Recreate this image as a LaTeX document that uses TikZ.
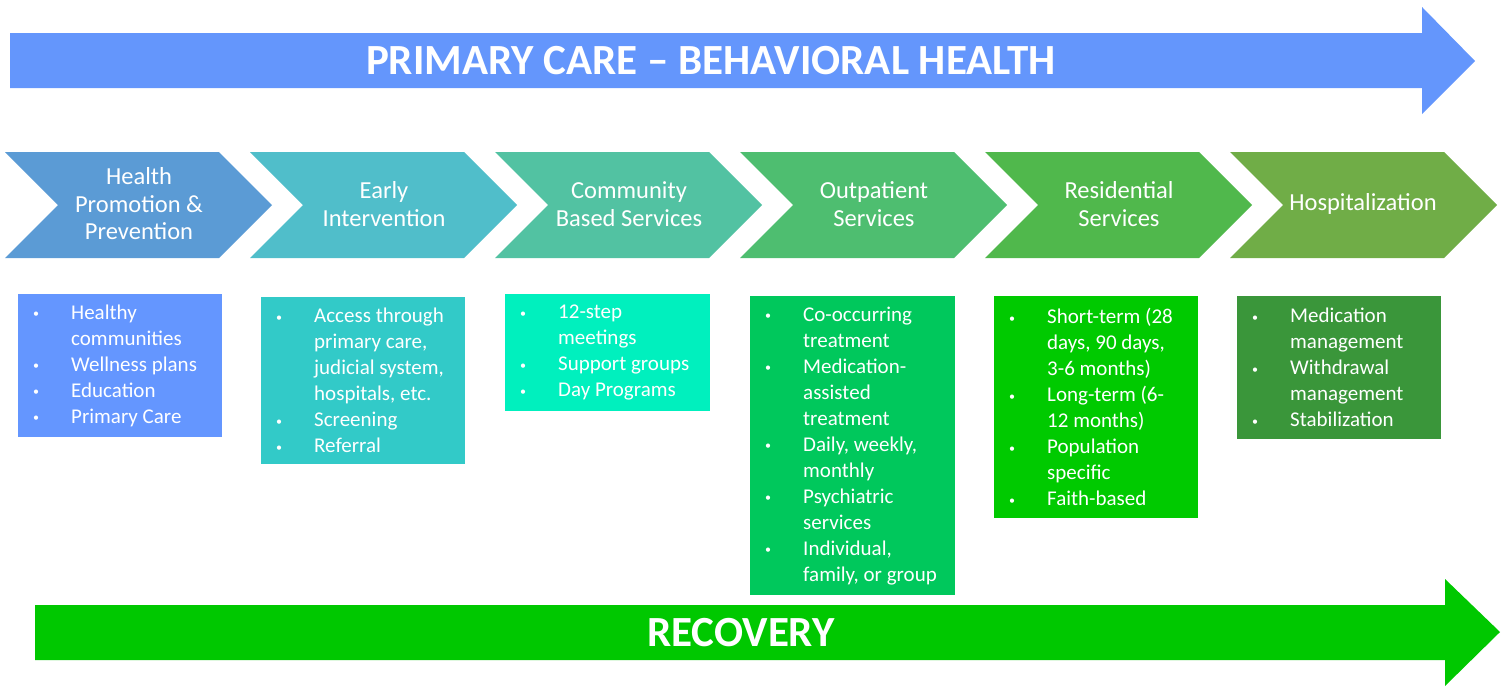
\documentclass[tikz,border=0pt]{standalone}
\usepackage{fontspec}
\setmainfont{Carlito}
\definecolor{topc}{RGB}{100,150,252}
\definecolor{botc}{RGB}{0,200,0}
\definecolor{ch1}{RGB}{91,155,213}
\definecolor{ch2}{RGB}{80,190,202}
\definecolor{ch3}{RGB}{82,194,162}
\definecolor{ch4}{RGB}{78,190,112}
\definecolor{ch5}{RGB}{80,184,76}
\definecolor{ch6}{RGB}{112,173,71}
\definecolor{bx1}{RGB}{100,150,255}
\definecolor{bx2}{RGB}{50,202,200}
\definecolor{bx3}{RGB}{0,240,190}
\definecolor{bx4}{RGB}{0,200,92}
\definecolor{bx5}{RGB}{0,202,0}
\definecolor{bx6}{RGB}{58,150,58}
\newcommand\bl[1]{\makebox[39pt][l]{\hspace*{1pt}\raisebox{1.5pt}{\fontsize{12}{12}\selectfont •}}#1}
\newcommand\cl[1]{\hspace*{39pt}#1}
\begin{document}
\begin{tikzpicture}[x=1pt,y=-1pt,
  chev/.pic={\fill[pic actions] (0,0) -- (214,0) -- (267,53) -- (214,106) -- (0,106) -- (53,53) -- cycle;},
  bigtext/.style={text=white,font=\fontsize{43}{46}\selectfont\bfseries,inner sep=0},
  chtext/.style={text=white,font=\fontsize{24.5}{27.5}\selectfont,align=center,inner sep=0},
  boxstyle/.style={anchor=north west,inner sep=0,minimum width=#1},
  listtext/.style={text=white,font=\fontsize{21}{26}\selectfont,align=left,inner sep=0,anchor=west}
]
\useasboundingbox (0,0) rectangle (1507,686);
% top arrow
\fill[topc] (10,33) -- (1422,33) -- (1422,7) -- (1475,61) -- (1422,114) -- (1422,88) -- (10,88) -- cycle;
\node[bigtext] (toptitle) at (711,61) {PRIMARY CARE \textendash{} BEHAVIORAL HEALTH};
% bottom arrow
\fill[botc] (35,605) -- (1445,605) -- (1445,579) -- (1500,632) -- (1445,686) -- (1445,660) -- (35,660) -- cycle;
\node[bigtext] (recovery) at (741,633) {RECOVERY};
% chevrons
\pic[fill=ch1] at (5,152) {chev};
\pic[fill=ch2] at (250,152) {chev};
\pic[fill=ch3] at (495,152) {chev};
\pic[fill=ch4] at (740,152) {chev};
\pic[fill=ch5] at (985,152) {chev};
\pic[fill=ch6] at (1230,152) {chev};
\node[chtext] (c1) at (139,204) {Health\\Promotion \&\\Prevention};
\node[chtext] (c2) at (384,204) {Early\\Intervention};
\node[chtext] (c3) at (629,204) {Community\\Based Services};
\node[chtext] (c4) at (874,204) {Outpatient\\Services};
\node[chtext] (c5) at (1119,204) {Residential\\Services};
\node[chtext] (c6) at (1363,204) {Hospitalization};
% boxes
\node[boxstyle=204pt,minimum height=143pt,fill=bx1] (b1) at (18,294) {};
\node[boxstyle=204pt,minimum height=167pt,fill=bx2] (b2) at (261,297) {};
\node[boxstyle=205pt,minimum height=117pt,fill=bx3] (b3) at (505,294) {};
\node[boxstyle=205pt,minimum height=299pt,fill=bx4] (b4) at (750,296) {};
\node[boxstyle=204pt,minimum height=222pt,fill=bx5] (b5) at (994,296) {};
\node[boxstyle=204pt,minimum height=143pt,fill=bx6] (b6) at (1237,296) {};
\node[listtext] (t1) at ([xshift=14pt]b1.west) {\bl{Healthy}\\\cl{communities}\\\bl{Wellness plans}\\\bl{Education}\\\bl{Primary Care}};
\node[listtext] (t2) at ([xshift=14pt]b2.west) {\bl{Access through}\\\cl{primary care,}\\\cl{judicial system,}\\\cl{hospitals, etc.}\\\bl{Screening}\\\bl{Referral}};
\node[listtext] (t3) at ([xshift=14pt]b3.west) {\bl{12-step}\\\cl{meetings}\\\bl{Support groups}\\\bl{Day Programs}};
\node[listtext] (t4) at ([xshift=14pt]b4.west) {\bl{Co-occurring}\\\cl{treatment}\\\bl{Medication-}\\\cl{assisted}\\\cl{treatment}\\\bl{Daily, weekly,}\\\cl{monthly}\\\bl{Psychiatric}\\\cl{services}\\\bl{Individual,}\\\cl{family, or group}};
\node[listtext] (t5) at ([xshift=14pt]b5.west) {\bl{Short-term (28}\\\cl{days, 90 days,}\\\cl{3-6 months)}\\\bl{Long-term (6-}\\\cl{12 months)}\\\bl{Population}\\\cl{specific}\\\bl{Faith-based}};
\node[listtext] (t6) at ([xshift=14pt]b6.west) {\bl{Medication}\\\cl{management}\\\bl{Withdrawal}\\\cl{management}\\\bl{Stabilization}};
\end{tikzpicture}
\end{document}
